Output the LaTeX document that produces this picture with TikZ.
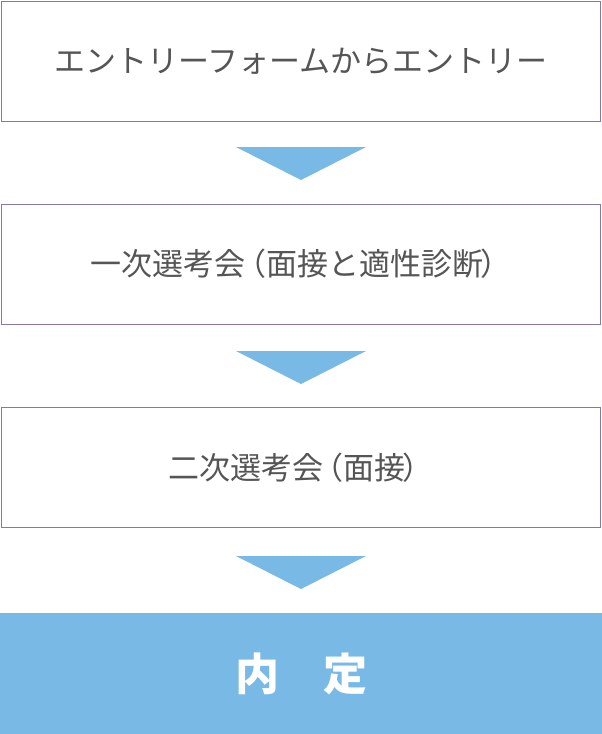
\documentclass[tikz,border=0pt]{standalone}
\usepackage{fontspec}
\newfontfamily\jp{Noto Sans CJK JP}
\definecolor{frame}{HTML}{8878AA}
\definecolor{txt}{HTML}{555555}
\definecolor{blu}{HTML}{78B9E6}
\begin{document}
\begin{tikzpicture}[x=1pt,y=-1pt,
  stepbox/.style={draw=frame,line width=1pt,minimum width=599pt,minimum height=120pt,inner sep=0pt,font=\jp\fontsize{31pt}{36pt}\selectfont,text=txt},
  finalbox/.style={fill=blu,minimum width=602pt,minimum height=121pt,inner sep=0pt,font=\jp\bfseries\fontsize{44pt}{50pt}\selectfont,text=white},
  tri/.style={fill=blu}]
\useasboundingbox (0,0) rectangle (602,734);
\node[stepbox] (a) at (301,61.5) {エントリーフォームからエントリー};
\node[stepbox] (b) at (301,264) {一次選考会\hspace{-0.35em}（面接と適性診断\hspace{-0.1em}）};
\node[stepbox] (c) at (301,467.5) {二次選考会\hspace{-0.35em}（面接\hspace{-0.1em}）};
\node[finalbox] (d) at (301,673.5) {内\hspace{1em}定};
\fill[tri] (236,147) -- (366,147) -- (301,180) -- cycle;
\fill[tri] (236,351) -- (366,351) -- (301,384) -- cycle;
\fill[tri] (236,556) -- (366,556) -- (301,589) -- cycle;
\end{tikzpicture}
\end{document}
